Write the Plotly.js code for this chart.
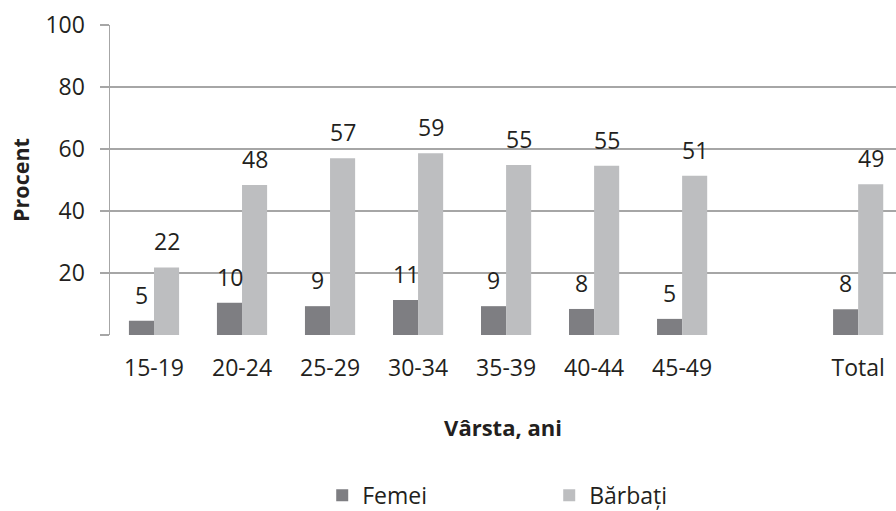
<!DOCTYPE html>
<html>
<head>
<meta charset="utf-8">
<script src="https://cdn.plot.ly/plotly-3.0.1.min.js"></script>
<style>
  html, body { margin: 0; padding: 0; background: #ffffff; }
  #chart { width: 896px; height: 511px; }
</style>
</head>
<body>
<div id="chart"></div>
<script>
// Categories (one blank slot separates the age groups from the total)
const categories = ['15-19', '20-24', '25-29', '30-34', '35-39', '40-44', '45-49', ' ', 'Total'];

// Series values (percent)
const femei   = [4.6, 10.4, 9.3, 11.3, 9.3, 8.4, 5.2, null, 8.3];
const barbati = [21.8, 48.4, 57.0, 58.6, 54.8, 54.6, 51.4, null, 48.6];

// Labels shown above bars
const femeiLabels   = ['5', '10', '9', '11', '9', '8', '5', '', '8'];
const barbatiLabels = ['22', '48', '57', '59', '55', '55', '51', '', '49'];

// Y-axis ticks
const yTickVals = [0, 20, 40, 60, 80, 100];
const yTickText = ['', '20', '40', '60', '80', '100'];

const seriesNames = ['Femei', 'Bărbați'];

const FONT = '"Open Sans", "DejaVu Sans", sans-serif';
const TEXT_COLOR = '#231f20';
const GRID = '#a6a6a6';
const FS = 23;

const traces = [
  {
    type: 'bar', name: seriesNames[0], x: categories, y: femei,
    marker: { color: '#7e7e82' }, hoverinfo: 'skip'
  },
  {
    type: 'bar', name: seriesNames[1], x: categories, y: barbati,
    marker: { color: '#bdbec0' }, hoverinfo: 'skip'
  }
];

const annotations = [];
categories.forEach((c, i) => {
  if (femei[i] !== null) {
    annotations.push({
      x: c, y: femei[i], xref: 'x', yref: 'y', text: femeiLabels[i],
      showarrow: false, xshift: -12.5, yshift: 26, yanchor: 'middle',
      font: { family: FONT, size: FS, color: TEXT_COLOR }
    });
  }
  if (barbati[i] !== null) {
    annotations.push({
      x: c, y: barbati[i], xref: 'x', yref: 'y', text: barbatiLabels[i],
      showarrow: false, xshift: 12.5, yshift: 26, yanchor: 'middle',
      font: { family: FONT, size: FS, color: TEXT_COLOR }
    });
  }
});

const layout = {
  width: 896, height: 511,
  margin: { l: 110, r: 0, t: 25, b: 176, autoexpand: false },
  paper_bgcolor: '#ffffff', plot_bgcolor: '#ffffff',
  font: { family: FONT, size: FS, color: TEXT_COLOR },
  barmode: 'group', bargap: 0.43, bargroupgap: 0,
  showlegend: true,
  legend: {
    orientation: 'h', x: 0.27, xanchor: 'left', y: -0.517, yanchor: 'middle',
    entrywidth: 182, entrywidthmode: 'pixels',
    font: { family: FONT, size: FS, color: TEXT_COLOR },
    traceorder: 'normal'
  },
  xaxis: {
    type: 'category',
    range: [-0.5, 8.43],
    showgrid: false, zeroline: false,
    showline: false,
    ticks: '',
    automargin: false,
    ticklabelstandoff: 17,
    tickfont: { family: FONT, size: FS, color: TEXT_COLOR },
    title: { text: '<b>Vârsta, ani</b>', standoff: 38,
             font: { family: FONT, size: 22, color: TEXT_COLOR } },
    fixedrange: true
  },
  yaxis: {
    range: [0, 100],
    tickvals: yTickVals, ticktext: yTickText,
    showgrid: true, gridcolor: GRID, gridwidth: 1.5,
    zeroline: false,
    showline: true, linecolor: GRID, linewidth: 1.5,
    ticks: 'outside', ticklen: 9, tickcolor: GRID, tickwidth: 1.5,
    automargin: false,
    ticklabelstandoff: 10,
    tickfont: { family: FONT, size: FS, color: TEXT_COLOR },
    title: { text: '<b>Procent</b>', standoff: 10,
             font: { family: FONT, size: 21.5, color: TEXT_COLOR } },
    fixedrange: true
  },
  annotations: annotations
};

Plotly.newPlot('chart', traces, layout, { displayModeBar: false, staticPlot: true });
</script>
</body>
</html>
